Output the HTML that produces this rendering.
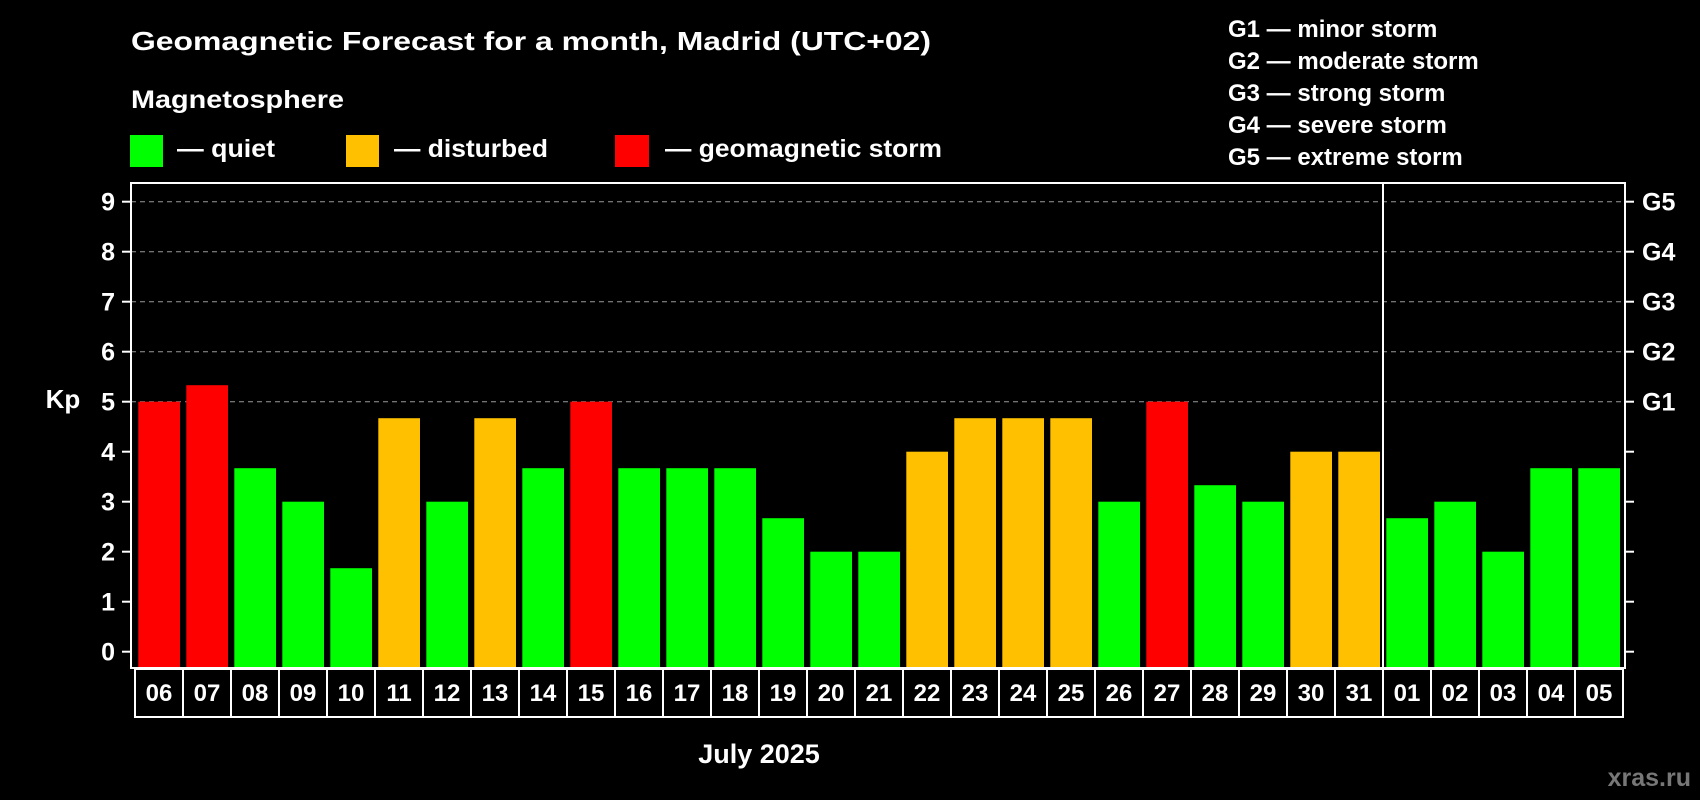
<!DOCTYPE html>
<html><head><meta charset="utf-8"><style>
html,body{margin:0;padding:0;background:#000;}
svg{display:block;font-family:"Liberation Sans",Arial,sans-serif;font-weight:bold;}
</style></head><body>
<svg id="chart" width="1700" height="800" viewBox="0 0 1700 800" xmlns="http://www.w3.org/2000/svg">
<rect x="0" y="0" width="1700" height="800" fill="#000"/>
<text x="131" y="50" font-size="26" fill="#fff" textLength="800" lengthAdjust="spacingAndGlyphs">Geomagnetic Forecast for a month, Madrid (UTC+02)</text>
<text x="131" y="108" font-size="25" fill="#fff" textLength="213" lengthAdjust="spacingAndGlyphs">Magnetosphere</text>
<g>
<rect x="130" y="135" width="33" height="32" fill="#00ff00"/>
<text x="177" y="157" font-size="25" fill="#fff" textLength="98" lengthAdjust="spacingAndGlyphs">— quiet</text></g>
<g>
<rect x="346" y="135" width="33" height="32" fill="#ffc000"/>
<text x="394" y="157" font-size="25" fill="#fff" textLength="154" lengthAdjust="spacingAndGlyphs">— disturbed</text></g>
<g>
<rect x="615" y="135" width="34" height="32" fill="#ff0000"/>
<text x="665" y="157" font-size="25" fill="#fff" textLength="277" lengthAdjust="spacingAndGlyphs">— geomagnetic storm</text></g>
<g font-size="24" fill="#fff">
<text x="1228" y="37">G1 — minor storm</text>
<text x="1228" y="69">G2 — moderate storm</text>
<text x="1228" y="101">G3 — strong storm</text>
<text x="1228" y="133">G4 — severe storm</text>
<text x="1228" y="165">G5 — extreme storm</text>
</g>
<text x="63" y="408" font-size="26" fill="#fff" text-anchor="middle">Kp</text>
<text x="759" y="763" font-size="27" fill="#fff" text-anchor="middle">July 2025</text>
<text x="1691" y="786" font-size="25" fill="#777" text-anchor="end">xras.ru</text>
<g id="plot"></g>
</svg>
<script>
const days = ["06","07","08","09","10","11","12","13","14","15","16","17","18","19","20","21","22","23","24","25","26","27","28","29","30","31","01","02","03","04","05"];
const kpValues = [5,5.33,3.67,3,1.67,4.67,3,4.67,3.67,5,3.67,3.67,3.67,2.67,2,2,4,4.67,4.67,4.67,3,5,3.33,3,4,4,2.67,3,2,3.67,3.67];
const yTicks = [0,1,2,3,4,5,6,7,8,9];
const gLabels = ["G1","G2","G3","G4","G5"];
const gLevels = [5,6,7,8,9];
const monthBreakIndex = 26;

const NS="http://www.w3.org/2000/svg";
const plot=document.getElementById('plot');
const L=131,R=1625,T=183,B=668,Y0=651.7,PU=50,SLOT0=135,PITCH=48;
const y=v=>Y0-v*PU;
const xSlot=i=>SLOT0+i*PITCH;
function mk(tag,attrs,parent){const e=document.createElementNS(NS,tag);for(const k in attrs)e.setAttribute(k,attrs[k]);(parent||plot).appendChild(e);return e;}
function color(v){return v>=5?"#ff0000":(v>=4?"#ffc000":"#00ff00");}

// gridlines
gLevels.forEach(v=>{
  const g=mk('line',{x1:L,x2:R,y1:y(v),y2:y(v),stroke:"#999","stroke-width":1,"stroke-dasharray":"5,4"});
  
  
});
// bars
kpValues.forEach((v,i)=>{
  const b=mk('rect',{x:xSlot(i)+3.3,y:y(v),width:41.7,height:B-y(v),fill:color(v)});
  
  
});
// frame
const fr=mk('rect',{x:L,y:T,width:R-L,height:B-T,fill:"none",stroke:"#fff","stroke-width":2});


// month divider
const xd=xSlot(monthBreakIndex);
const dv=mk('line',{x1:xd,x2:xd,y1:T,y2:717,stroke:"#fff","stroke-width":2});


// y ticks & labels
yTicks.forEach(v=>{
  const t=mk('line',{x1:122,x2:L,y1:y(v),y2:y(v),stroke:"#fff","stroke-width":2});
  
  
  const t2=mk('line',{x1:R,x2:1634,y1:y(v),y2:y(v),stroke:"#fff","stroke-width":2});
  
  
  const lb=mk('text',{x:115,y:y(v)+9,"font-size":25,fill:"#fff","text-anchor":"end"});
  lb.textContent=v;
  
  
});
gLabels.forEach((g,i)=>{
  const lb=mk('text',{x:1642,y:y(gLevels[i])+9,"font-size":25,fill:"#fff"});
  lb.textContent=g;
  
  
});
// date boxes
days.forEach((d,i)=>{
  const bx=mk('rect',{x:xSlot(i),y:669,width:PITCH,height:48,fill:"none",stroke:"#fff","stroke-width":2});
  
  
  const t=mk('text',{x:xSlot(i)+PITCH/2,y:701,"font-size":24,fill:"#fff","text-anchor":"middle"});
  t.textContent=d;
  
  
});
</script>
</body></html>
